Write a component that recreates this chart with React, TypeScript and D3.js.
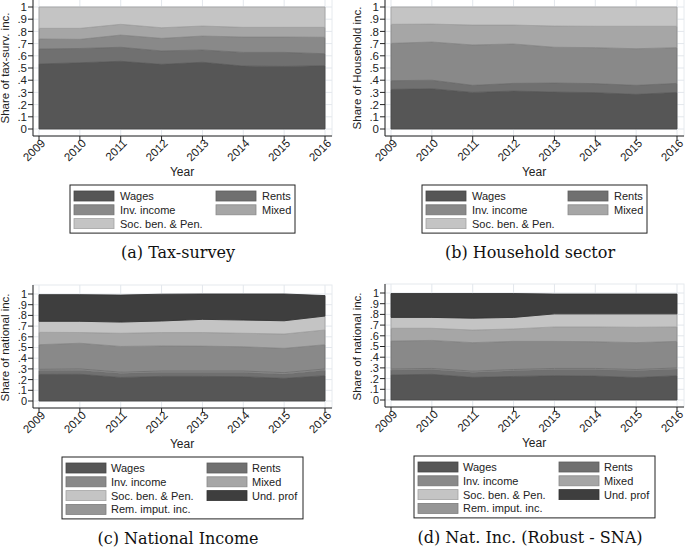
import React from 'react'
import * as d3 from 'd3'

const years = [2009, 2010, 2011, 2012, 2013, 2014, 2015, 2016]
const yTicks = [0, 0.1, 0.2, 0.3, 0.4, 0.5, 0.6, 0.7, 0.8, 0.9, 1]

// (a) Tax-survey
const taxWages = [0.533, 0.543, 0.555, 0.53, 0.547, 0.516, 0.513, 0.519]
const taxRents = [0.123, 0.117, 0.115, 0.11, 0.101, 0.112, 0.115, 0.098]
const taxInv = [0.082, 0.075, 0.1, 0.103, 0.114, 0.126, 0.126, 0.135]
const taxMixed = [0.087, 0.09, 0.088, 0.087, 0.082, 0.079, 0.079, 0.081]
const taxSoc = [0.175, 0.175, 0.142, 0.17, 0.156, 0.167, 0.167, 0.167]

// (b) Household sector
const hhWages = [0.325, 0.33, 0.3, 0.311, 0.303, 0.298, 0.284, 0.3]
const hhRents = [0.071, 0.07, 0.058, 0.063, 0.074, 0.074, 0.074, 0.074]
const hhInv = [0.306, 0.313, 0.331, 0.323, 0.293, 0.295, 0.3, 0.293]
const hhMixed = [0.156, 0.147, 0.163, 0.155, 0.174, 0.175, 0.184, 0.175]
const hhSoc = [0.142, 0.14, 0.148, 0.148, 0.156, 0.158, 0.158, 0.158]

// (c) National income
const niWages = [0.249, 0.25, 0.22, 0.23, 0.23, 0.227, 0.212, 0.237]
const niRents = [0.036, 0.038, 0.04, 0.038, 0.038, 0.041, 0.041, 0.051]
const niRem = [0.011, 0.012, 0.01, 0.012, 0.012, 0.012, 0.012, 0.012]
const niInv = [0.23, 0.24, 0.24, 0.235, 0.233, 0.227, 0.227, 0.226]
const niMixed = [0.116, 0.1, 0.123, 0.125, 0.127, 0.126, 0.134, 0.138]
const niSoc = [0.103, 0.105, 0.105, 0.108, 0.123, 0.124, 0.124, 0.13]
const niUnd = [0.249, 0.249, 0.252, 0.25, 0.237, 0.243, 0.25, 0.191]

// (d) Nat. Inc. (Robust - SNA)
const snaWages = [0.234, 0.24, 0.212, 0.22, 0.227, 0.224, 0.21, 0.227]
const snaRents = [0.046, 0.045, 0.048, 0.055, 0.058, 0.061, 0.065, 0.063]
const snaRem = [0.01, 0.01, 0.01, 0.01, 0.01, 0.01, 0.01, 0.01]
const snaInv = [0.261, 0.262, 0.266, 0.263, 0.253, 0.25, 0.251, 0.248]
const snaMixed = [0.119, 0.113, 0.118, 0.116, 0.135, 0.138, 0.144, 0.135]
const snaSoc = [0.102, 0.102, 0.111, 0.108, 0.122, 0.122, 0.125, 0.122]
const snaUnd = [0.223, 0.223, 0.23, 0.223, 0.185, 0.185, 0.185, 0.185]

const colors: Record<string, string> = {
  Wages: '#565656',
  Rents: '#707070',
  'Inv. income': '#898989',
  Mixed: '#a6a6a6',
  'Soc. ben. & Pen.': '#c4c4c4',
  'Und. prof': '#3e3e3e',
  'Rem. imput. inc.': '#969696',
}

const legend5 = ['Wages', 'Rents', 'Inv. income', 'Mixed', 'Soc. ben. & Pen.']
const legend7 = ['Wages', 'Rents', 'Inv. income', 'Mixed', 'Soc. ben. & Pen.', 'Und. prof', 'Rem. imput. inc.']

type Series = { key: string; values: number[] }

interface PanelProps {
  dx: number
  dy: number
  h: number
  ytitle: string
  caption: string
  series: Series[]
  legendKeys: string[]
}

const sans = "'Liberation Sans', Arial, sans-serif"

const Panel: React.FC<PanelProps> = ({ dx, dy, h, ytitle, caption, series, legendKeys }) => {
  const x = d3.scaleLinear().domain([2009, 2016]).range([39, 325])
  const y = d3.scaleLinear().domain([0, 1]).range([7 + h, 7])
  const left = 33
  const right = 332
  const top = -2
  const axisY = 7 + h + 7
  const tickSize = h > 115 ? 11.5 : 11

  const rows = years.map((yr, i) => {
    const r: Record<string, number> = { year: yr }
    series.forEach((s) => (r[s.key] = s.values[i]))
    return r
  })
  const stacked = d3.stack<Record<string, number>>().keys(series.map((s) => s.key))(rows)
  const area = d3
    .area<d3.SeriesPoint<Record<string, number>>>()
    .x((d) => x(d.data.year))
    .y0((d) => y(d[0]))
    .y1((d) => y(d[1]))

  const wide = legendKeys.length > 5
  const nRows = Math.ceil(legendKeys.length / 2)
  const lgTop = axisY + 49
  const lgH = 20.5 + (nRows - 1) * 13.8
  const lg = wide
    ? { x: 62, w: 241, s1: 66, t1: 111, s2: 207, t2: 252 }
    : { x: 70, w: 225, s1: 74, t1: 120, s2: 216, t2: 262 }

  return (
    <g transform={`translate(${dx},${dy})`}>
      <rect x={left} y={top} width={right - left} height={axisY - top} fill="#ffffff" stroke="#e6eaee" />
      {yTicks.map((t) => (
        <line key={'gy' + t} x1={left} x2={right} y1={y(t)} y2={y(t)} stroke="#e3e7ec" strokeWidth={1} />
      ))}
      {years.map((yr) => (
        <line key={'gx' + yr} x1={x(yr)} x2={x(yr)} y1={top} y2={axisY} stroke="#e3e7ec" strokeWidth={1} />
      ))}
      {stacked.map((s) => (
        <path
          key={s.key}
          d={area(s) ?? ''}
          fill={colors[s.key]}
          stroke={d3.color(colors[s.key])!.darker(0.5).formatHex()}
          strokeWidth={0.9}
        />
      ))}
      {/* y axis */}
      <line x1={left} x2={left} y1={top} y2={axisY} stroke="#222" />
      {yTicks.map((t) => (
        <g key={'ty' + t}>
          <line x1={left - 5} x2={left} y1={y(t)} y2={y(t)} stroke="#222" />
          <text x={left - 6} y={y(t)} dy="0.36em" textAnchor="end" fontSize={tickSize} fontFamily={sans} fill="#222">
            {t === 0 ? '0' : t === 1 ? '1' : d3.format('.1f')(t).replace(/^0/, '')}
          </text>
        </g>
      ))}
      <text
        transform={`translate(9,${(y(0) + y(1)) / 2}) rotate(-90)`}
        textAnchor="middle"
        fontSize={11.5}
        fontFamily={sans}
        fill="#222"
      >
        {ytitle}
      </text>
      {/* x axis */}
      <line x1={left} x2={right} y1={axisY} y2={axisY} stroke="#222" />
      {years.map((yr) => (
        <g key={'tx' + yr}>
          <line x1={x(yr)} x2={x(yr)} y1={axisY} y2={axisY + 5} stroke="#222" />
          <text
            transform={`translate(${x(yr) + 4},${axisY + 5}) rotate(-45)`}
            textAnchor="end"
            dy="0.36em"
            fontSize={11.5}
            fontFamily={sans}
            fill="#222"
          >
            {yr}
          </text>
        </g>
      ))}
      <text x={182} y={axisY + 40} textAnchor="middle" fontSize={12} fontFamily={sans} fill="#222">
        Year
      </text>
      {/* legend */}
      <rect x={lg.x} y={lgTop} width={lg.w} height={lgH} fill="#fff" stroke="#222" strokeWidth={1} />
      {legendKeys.map((k, i) => {
        const col = i % 2
        const row = Math.floor(i / 2)
        const cy = lgTop + 11 + row * 13.8
        const sx = col === 0 ? lg.s1 : lg.s2
        const tx = col === 0 ? lg.t1 : lg.t2
        return (
          <g key={'lg' + k}>
            <rect
              x={sx}
              y={cy - 5}
              width={40}
              height={10}
              fill={colors[k]}
              stroke={d3.color(colors[k])!.darker(0.5).formatHex()}
              strokeWidth={0.8}
            />
            <text x={tx} y={cy} dy="0.36em" fontSize={11} fontFamily={sans} fill="#222">
              {k}
            </text>
          </g>
        )
      })}
      <text
        x={178}
        y={lgTop + lgH + 25}
        textAnchor="middle"
        fontSize={16}
        fontFamily="'DejaVu Serif', serif"
        fill="#111"
      >
        {caption}
      </text>
    </g>
  )
}

export default function App() {
  return (
    <svg
      width={685}
      height={548}
      style={{ position: 'absolute', left: 0, top: 0, background: '#fff' }}
    >
      <Panel
        dx={0}
        dy={0}
        h={122}
        ytitle="Share of tax-surv. inc."
        caption="(a) Tax-survey"
        legendKeys={legend5}
        series={[
          { key: 'Wages', values: taxWages },
          { key: 'Rents', values: taxRents },
          { key: 'Inv. income', values: taxInv },
          { key: 'Mixed', values: taxMixed },
          { key: 'Soc. ben. & Pen.', values: taxSoc },
        ]}
      />
      <Panel
        dx={352}
        dy={0}
        h={122}
        ytitle="Share of Household inc."
        caption="(b) Household sector"
        legendKeys={legend5}
        series={[
          { key: 'Wages', values: hhWages },
          { key: 'Rents', values: hhRents },
          { key: 'Inv. income', values: hhInv },
          { key: 'Mixed', values: hhMixed },
          { key: 'Soc. ben. & Pen.', values: hhSoc },
        ]}
      />
      <Panel
        dx={0}
        dy={287}
        h={107}
        ytitle="Share of national inc."
        caption="(c) National Income"
        legendKeys={legend7}
        series={[
          { key: 'Wages', values: niWages },
          { key: 'Rents', values: niRents },
          { key: 'Rem. imput. inc.', values: niRem },
          { key: 'Inv. income', values: niInv },
          { key: 'Mixed', values: niMixed },
          { key: 'Soc. ben. & Pen.', values: niSoc },
          { key: 'Und. prof', values: niUnd },
        ]}
      />
      <Panel
        dx={352}
        dy={286}
        h={107}
        ytitle="Share of national inc."
        caption="(d) Nat. Inc. (Robust - SNA)"
        legendKeys={legend7}
        series={[
          { key: 'Wages', values: snaWages },
          { key: 'Rents', values: snaRents },
          { key: 'Rem. imput. inc.', values: snaRem },
          { key: 'Inv. income', values: snaInv },
          { key: 'Mixed', values: snaMixed },
          { key: 'Soc. ben. & Pen.', values: snaSoc },
          { key: 'Und. prof', values: snaUnd },
        ]}
      />
    </svg>
  )
}
